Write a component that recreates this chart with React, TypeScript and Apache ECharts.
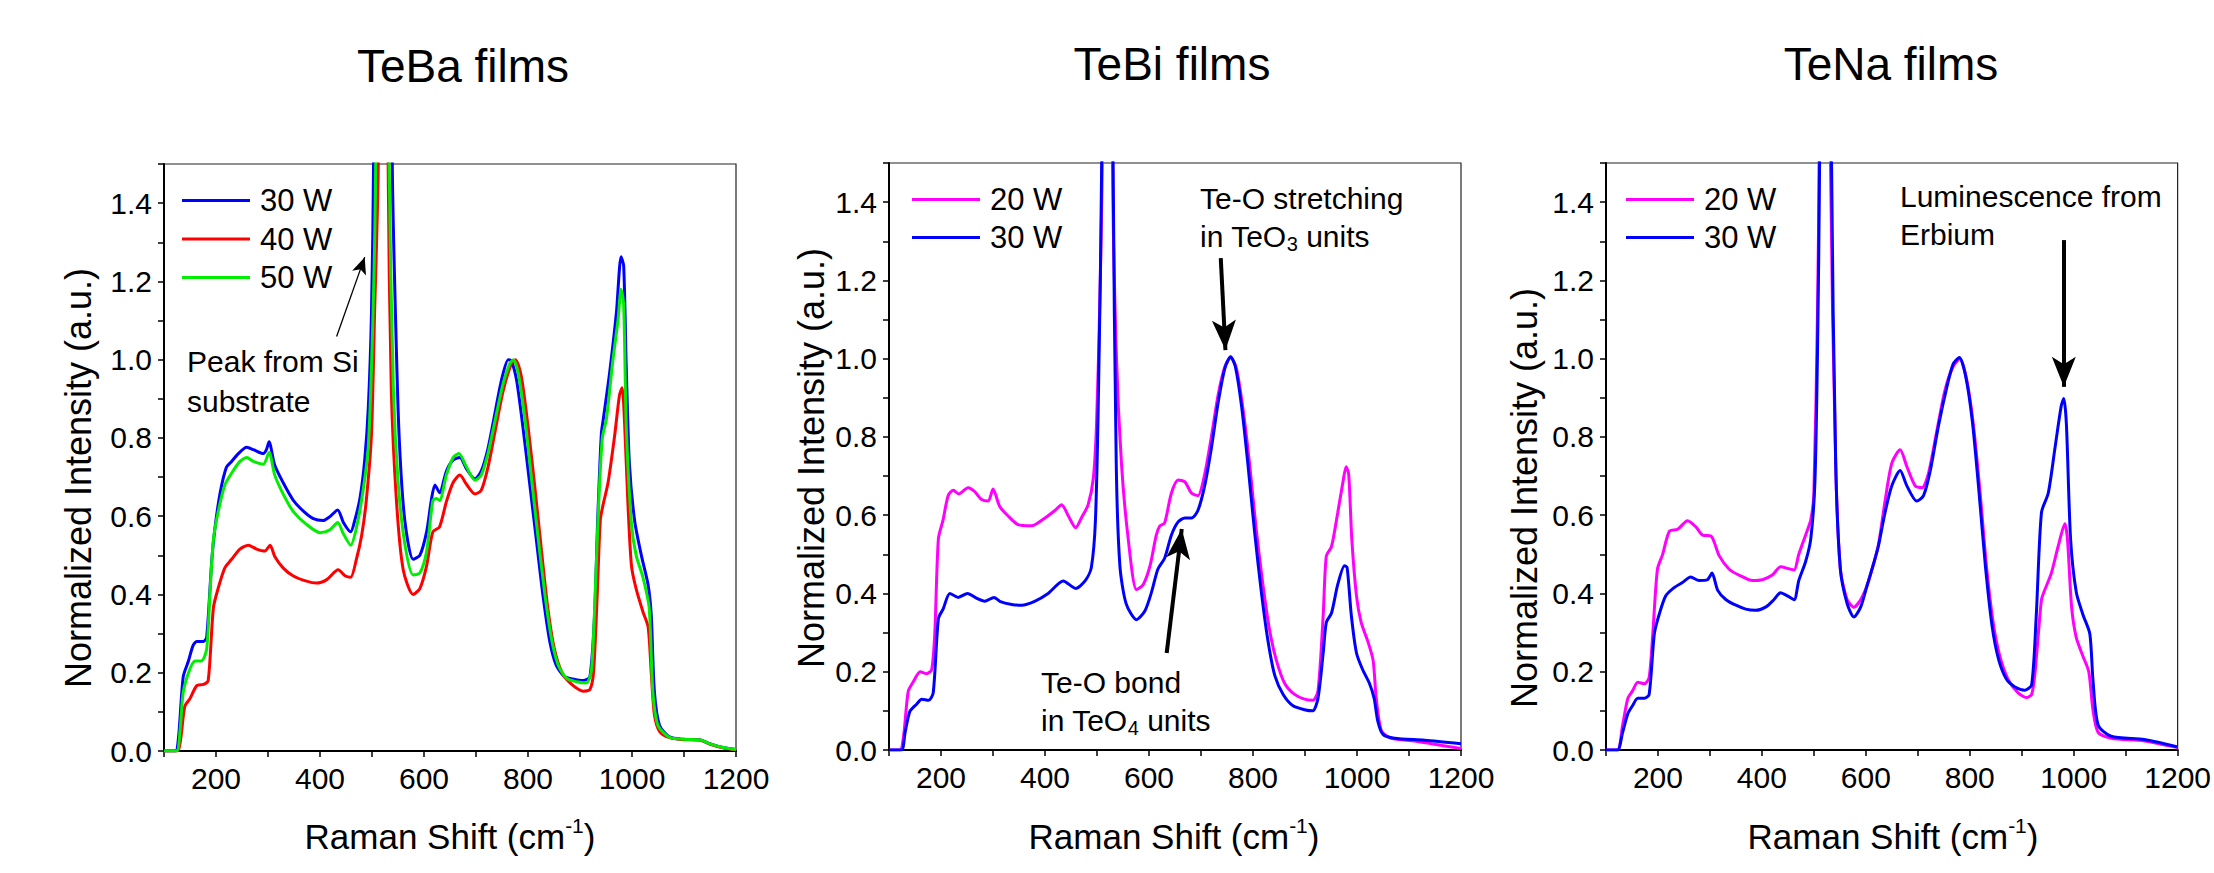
import React, { useEffect, useRef } from "react";
import * as echarts from "echarts";

type Pt = [number, number];

const FONT = "Liberation Sans, Arial, Helvetica, sans-serif";

const panelTitles = ["TeBa films", "TeBi films", "TeNa films"];
const xAxisTitle = "Raman Shift (cm";
const yAxisTitle = "Normalized Intensity (a.u.)";

// ---- TeBa films ----
const teba30W: Pt[] = [[100,0],[122,0],[128,0.036],[137,0.19],[147,0.23],[156,0.27],[163,0.28],[176,0.28],[182,0.29],[192,0.49],[198,0.57],[208,0.66],[220,0.725],[230,0.74],[243,0.76],[259,0.776],[272,0.77],[291,0.76],[297,0.77],[302,0.79],[313,0.73],[329,0.686],[348,0.642],[368,0.613],[387,0.594],[406,0.589],[419,0.599],[434,0.616],[445,0.584],[459,0.56],[467,0.59],[477,0.647],[486,0.744],[493,0.88],[499,1.12],[503,1.5],[510,4],[520,9],[530,4],[539,1.5],[547,1.02],[553,0.78],[563,0.59],[579,0.49],[592,0.5],[605,0.56],[614,0.64],[621,0.68],[630,0.66],[643,0.715],[656,0.744],[669,0.75],[682,0.72],[698,0.695],[710,0.715],[723,0.773],[736,0.86],[749,0.948],[762,1.0],[768,0.997],[778,0.948],[790,0.83],[803,0.686],[816,0.54],[829,0.395],[842,0.279],[854,0.22],[870,0.19],[886,0.184],[906,0.18],[919,0.19],[928,0.347],[934,0.59],[941,0.81],[945,0.85],[957,0.967],[970,1.12],[979,1.263],[984,1.24],[989,0.977],[995,0.734],[1005,0.589],[1018,0.5],[1031,0.424],[1037,0.347],[1043,0.153],[1053,0.065],[1072,0.036],[1098,0.03],[1130,0.029],[1149,0.019],[1175,0.009],[1200,0.004]];
const teba40W: Pt[] = [[100,0],[126,0],[132,0.03],[140,0.114],[150,0.134],[163,0.167],[176,0.17],[185,0.18],[195,0.366],[204,0.415],[217,0.468],[230,0.49],[246,0.516],[262,0.526],[278,0.516],[294,0.511],[304,0.526],[313,0.497],[329,0.468],[348,0.448],[374,0.434],[393,0.429],[413,0.438],[435,0.463],[448,0.448],[459,0.444],[470,0.49],[480,0.55],[489,0.64],[499,0.81],[505,1.12],[512,1.5],[516,4],[522,9],[527,4],[531,1.5],[537,0.93],[547,0.64],[560,0.463],[579,0.4],[592,0.415],[605,0.473],[617,0.56],[630,0.573],[643,0.637],[656,0.686],[669,0.705],[682,0.681],[698,0.657],[710,0.666],[723,0.725],[736,0.812],[752,0.919],[768,0.99],[776,1.0],[787,0.958],[800,0.83],[813,0.676],[826,0.511],[838,0.366],[851,0.259],[867,0.196],[887,0.167],[906,0.153],[919,0.157],[926,0.2],[933,0.395],[939,0.59],[944,0.627],[954,0.686],[967,0.81],[976,0.91],[981,0.928],[986,0.83],[992,0.637],[999,0.473],[1008,0.414],[1021,0.356],[1031,0.317],[1037,0.2],[1043,0.094],[1053,0.05],[1072,0.034],[1098,0.029],[1130,0.028],[1149,0.018],[1175,0.008],[1200,0.003]];
const teba50W: Pt[] = [[100,0],[124,0],[131,0.055],[137,0.15],[150,0.21],[160,0.23],[172,0.23],[182,0.26],[188,0.395],[195,0.54],[204,0.61],[217,0.68],[230,0.71],[246,0.74],[259,0.75],[272,0.74],[291,0.733],[302,0.763],[313,0.705],[329,0.657],[348,0.613],[374,0.579],[400,0.558],[419,0.565],[434,0.584],[445,0.555],[459,0.526],[470,0.57],[483,0.667],[493,0.78],[502,1.12],[507,1.5],[512,4],[520,9],[527,4],[533,1.5],[541,0.93],[550,0.69],[563,0.53],[579,0.45],[592,0.455],[605,0.51],[617,0.64],[624,0.645],[630,0.64],[643,0.705],[656,0.75],[667,0.76],[682,0.725],[698,0.692],[710,0.705],[723,0.76],[736,0.84],[752,0.938],[765,0.99],[772,1.0],[781,0.967],[794,0.85],[806,0.705],[819,0.55],[832,0.405],[845,0.288],[858,0.22],[874,0.186],[893,0.177],[912,0.174],[922,0.206],[929,0.395],[936,0.637],[943,0.8],[951,0.85],[963,0.996],[973,1.1],[979,1.18],[984,1.14],[989,0.83],[999,0.58],[1008,0.5],[1021,0.444],[1033,0.366],[1040,0.153],[1050,0.065],[1072,0.035],[1098,0.03],[1130,0.029],[1149,0.019],[1175,0.009],[1200,0.004]];

// ---- TeBi films ----
const tebi20W: Pt[] = [[100,0],[121,0],[128,0.035],[137,0.15],[147,0.175],[160,0.2],[172,0.195],[182,0.205],[188,0.297],[195,0.54],[204,0.588],[214,0.651],[224,0.664],[234,0.654],[252,0.67],[265,0.66],[278,0.64],[291,0.636],[300,0.667],[313,0.622],[329,0.598],[348,0.576],[374,0.573],[400,0.593],[419,0.612],[432,0.627],[445,0.598],[459,0.568],[470,0.593],[483,0.627],[493,0.695],[499,0.83],[505,1.12],[510,1.5],[515,4],[520,9],[525,4],[530,1.5],[537,1.02],[547,0.733],[560,0.54],[576,0.41],[589,0.423],[602,0.471],[614,0.549],[621,0.573],[630,0.58],[643,0.656],[656,0.69],[669,0.685],[682,0.656],[694,0.65],[707,0.704],[720,0.801],[733,0.908],[746,0.98],[757,1.003],[768,0.976],[781,0.869],[794,0.724],[806,0.566],[819,0.423],[832,0.306],[845,0.229],[861,0.17],[880,0.142],[899,0.13],[915,0.127],[925,0.151],[935,0.345],[941,0.496],[951,0.52],[963,0.607],[973,0.685],[979,0.724],[984,0.705],[990,0.539],[999,0.394],[1008,0.326],[1021,0.277],[1031,0.229],[1037,0.132],[1047,0.049],[1066,0.03],[1111,0.023],[1143,0.016],[1200,0.004]];
const tebi30W: Pt[] = [[100,0],[124,0],[131,0.045],[140,0.098],[153,0.117],[163,0.13],[176,0.127],[185,0.146],[195,0.336],[204,0.36],[217,0.4],[233,0.39],[251,0.4],[268,0.388],[284,0.38],[302,0.39],[313,0.38],[336,0.372],[355,0.37],[380,0.38],[406,0.4],[435,0.432],[459,0.413],[477,0.432],[489,0.466],[497,0.587],[503,0.927],[509,1.5],[514,4],[520,9],[526,4],[531,1.5],[537,0.733],[544,0.471],[556,0.374],[576,0.333],[592,0.355],[605,0.404],[617,0.462],[630,0.49],[643,0.549],[656,0.583],[669,0.593],[682,0.593],[694,0.612],[707,0.675],[720,0.772],[733,0.888],[746,0.976],[757,1.005],[766,0.98],[778,0.879],[790,0.733],[803,0.558],[816,0.404],[829,0.277],[842,0.19],[858,0.142],[877,0.113],[899,0.103],[915,0.1],[925,0.132],[935,0.248],[941,0.326],[951,0.35],[963,0.423],[976,0.471],[981,0.466],[989,0.345],[999,0.248],[1011,0.205],[1024,0.17],[1033,0.132],[1040,0.074],[1050,0.04],[1072,0.03],[1130,0.025],[1200,0.016]];

// ---- TeNa films ----
const tena20W: Pt[] = [[100,0],[122,0],[132,0.064],[142,0.132],[151,0.151],[161,0.173],[174,0.169],[183,0.185],[190,0.297],[199,0.462],[209,0.5],[222,0.559],[238,0.564],[257,0.586],[273,0.57],[286,0.549],[302,0.547],[318,0.496],[337,0.462],[356,0.447],[382,0.433],[401,0.435],[420,0.447],[436,0.468],[452,0.463],[462,0.46],[471,0.5],[484,0.549],[494,0.588],[500,0.656],[507,1.12],[510,1.5],[515,4],[521,9],[527,4],[532,1.5],[542,0.733],[551,0.462],[564,0.384],[577,0.365],[590,0.384],[603,0.423],[616,0.481],[625,0.53],[637,0.636],[650,0.733],[666,0.767],[679,0.724],[695,0.675],[708,0.67],[720,0.704],[736,0.811],[752,0.918],[768,0.98],[781,1.0],[794,0.947],[807,0.83],[820,0.656],[832,0.471],[845,0.326],[858,0.239],[874,0.18],[893,0.146],[909,0.134],[919,0.142],[925,0.19],[932,0.297],[938,0.384],[944,0.408],[957,0.452],[970,0.52],[983,0.578],[988,0.539],[996,0.365],[1005,0.287],[1018,0.239],[1029,0.2],[1037,0.103],[1047,0.045],[1072,0.03],[1136,0.023],[1200,0.006]];
const tena30W: Pt[] = [[100,0],[122,0],[132,0.045],[142,0.093],[151,0.113],[161,0.132],[174,0.132],[183,0.142],[193,0.297],[202,0.345],[215,0.394],[231,0.415],[247,0.428],[263,0.442],[279,0.433],[295,0.435],[304,0.452],[315,0.408],[331,0.384],[350,0.37],[369,0.36],[388,0.357],[407,0.365],[423,0.384],[436,0.402],[449,0.394],[462,0.384],[471,0.433],[484,0.481],[494,0.539],[502,0.685],[507,1.02],[511,1.5],[516,4],[522,9],[528,4],[534,1.5],[542,0.733],[551,0.462],[564,0.374],[577,0.34],[590,0.365],[603,0.423],[616,0.481],[624,0.52],[637,0.607],[650,0.675],[666,0.714],[679,0.675],[698,0.636],[711,0.65],[724,0.714],[740,0.83],[756,0.928],[768,0.986],[780,1.003],[792,0.956],[805,0.84],[818,0.656],[830,0.471],[843,0.316],[856,0.229],[871,0.18],[887,0.161],[906,0.153],[919,0.166],[928,0.345],[938,0.607],[951,0.656],[964,0.772],[976,0.879],[981,0.898],[986,0.831],[994,0.539],[1005,0.403],[1018,0.345],[1031,0.297],[1037,0.18],[1047,0.064],[1072,0.035],[1136,0.027],[1200,0.008]];

// arrows: [tail, head] in data coordinates
const arrowSi: [Pt, Pt] = [[432, 1.059], [486, 1.262]];
const arrowTeO3: [Pt, Pt] = [[738, 1.257], [747, 1.022]];
const arrowTeO4: [Pt, Pt] = [[634, 0.248], [663, 0.565]];
const arrowEr: [Pt, Pt] = [[981, 1.303], [981, 0.928]];

const BLUE = "#0000FF";
const RED = "#FF0000";
const GREEN = "#00EE00";
const MAGENTA = "#FF00FF";

const grids = [
  { left: 164, top: 164, width: 572, height: 587 },
  { left: 889, top: 163, width: 572, height: 587 },
  { left: 1606, top: 163, width: 574, height: 587 },
];

function xAxisFor(i: number) {
  return {
    type: "value",
    gridIndex: i,
    min: 100,
    max: 1200,
    interval: 100,
    axisLine: { show: true, onZero: false, lineStyle: { color: "#000", width: 2 } },
    axisTick: { show: true, inside: false, length: 6, lineStyle: { color: "#000", width: 1.5 } },
    axisLabel: {
      show: true,
      margin: 12,
      fontSize: 30,
      fontFamily: FONT,
      color: "#000",
      formatter: (v: number) => (v % 200 === 0 ? String(v) : ""),
    },
    splitLine: { show: false },
  };
}

function yAxisFor(i: number) {
  return {
    type: "value",
    gridIndex: i,
    min: 0,
    max: 1.5,
    interval: 0.1,
    axisLine: { show: true, onZero: false, lineStyle: { color: "#000", width: 2 } },
    axisTick: { show: true, inside: false, length: 6, lineStyle: { color: "#000", width: 1.5 } },
    axisLabel: {
      show: true,
      margin: 12,
      fontSize: 30,
      fontFamily: FONT,
      color: "#000",
      formatter: (v: number) => {
        const k = Math.round(v * 10);
        return k % 2 === 0 ? (k / 10).toFixed(1) : "";
      },
    },
    splitLine: { show: false },
  };
}

function lineSeries(name: string, data: Pt[], color: string, idx: number, extra: any = {}) {
  return {
    type: "line",
    name,
    data,
    xAxisIndex: idx,
    yAxisIndex: idx,
    showSymbol: false,
    symbol: "none",
    smooth: 0.25,
    clip: true,
    lineStyle: { color, width: 3 },
    itemStyle: { color },
    emphasis: { disabled: true },
    silent: true,
    ...extra,
  };
}

function arrowMark(a: [Pt, Pt], width: number, size: number[]) {
  return {
    silent: true,
    symbol: ["none", "arrow"],
    symbolSize: size,
    label: { show: false },
    emphasis: { disabled: true },
    lineStyle: { color: "#000", width, type: "solid" },
    data: [[{ coord: a[0] }, { coord: a[1] }]],
  };
}

function legendFor(i: number, left: number, top: number, names: string[], gap: number) {
  return {
    show: true,
    orient: "vertical",
    left,
    top,
    itemWidth: 68,
    itemHeight: 3,
    icon: "rect",
    itemGap: gap,
    selectedMode: false,
    textStyle: { fontSize: 31, fontFamily: FONT, color: "#000", lineHeight: 31, padding: [0, 0, 0, 5] },
    data: names,
  };
}

function txt(text: string, x: number, y: number, size: number, align = "left") {
  return {
    type: "text",
    x,
    y,
    silent: true,
    style: {
      text,
      fill: "#000",
      fontSize: size,
      fontFamily: FONT,
      align,
      verticalAlign: "middle",
    },
  };
}

function richTxt(text: string, x: number, y: number, rich: any, align = "left") {
  return {
    type: "text",
    x,
    y,
    silent: true,
    style: {
      text,
      fill: "#000",
      fontFamily: FONT,
      fontSize: 30,
      align,
      verticalAlign: "middle",
      rich,
    },
  };
}

const subRich = {
  a: { fontSize: 30, fontFamily: FONT, fill: "#000", lineHeight: 36, verticalAlign: "middle" },
  s: { fontSize: 20, fontFamily: FONT, fill: "#000", lineHeight: 20, verticalAlign: "bottom" },
};
const supRich = {
  a: { fontSize: 35, fontFamily: FONT, fill: "#000", lineHeight: 42, verticalAlign: "middle" },
  s: { fontSize: 21, fontFamily: FONT, fill: "#000", lineHeight: 21, verticalAlign: "top" },
};

export default function App() {
  const ref = useRef<HTMLDivElement>(null);

  useEffect(() => {
    document.body.style.margin = "0";
    if (!ref.current) return;
    const chart = echarts.init(ref.current, undefined, { renderer: "svg" });

    const xTitlePos = [450, 1174, 1893];
    const yTitlePos: Pt[] = [[78, 478], [811, 458], [1524, 498]];
    const titlePos: Pt[] = [[463, 66], [1172, 64], [1891, 64]];

    const graphics: any[] = [];
    panelTitles.forEach((t, i) => graphics.push(txt(t, titlePos[i][0], titlePos[i][1], 46, "center")));
    xTitlePos.forEach((x) =>
      graphics.push(richTxt(`{a|${xAxisTitle}}{s|-1}{a|)}`, x, 836, supRich, "center"))
    );
    yTitlePos.forEach((p) => {
      const t: any = txt(yAxisTitle, p[0], p[1], 36, "center");
      t.rotation = Math.PI / 2;
      graphics.push(t);
    });
    graphics.push(txt("Peak from Si", 187, 361, 30));
    graphics.push(txt("substrate", 187, 401, 30));
    graphics.push(txt("Te-O stretching", 1200, 198, 30));
    graphics.push(richTxt("{a|in TeO}{s|3}{a| units}", 1200, 236, subRich));
    graphics.push(txt("Te-O bond", 1041, 682, 30));
    graphics.push(richTxt("{a|in TeO}{s|4}{a| units}", 1041, 720, subRich));
    graphics.push(txt("Luminescence from", 1900, 196, 30));
    graphics.push(txt("Erbium", 1900, 234, 30));

    const option: any = {
      animation: false,
      backgroundColor: "#fff",
      grid: grids.map((g) => ({
        ...g,
        show: true,
        borderColor: "#222",
        borderWidth: 1.2,
        backgroundColor: "transparent",
        containLabel: false,
      })),
      xAxis: [0, 1, 2].map(xAxisFor),
      yAxis: [0, 1, 2].map(yAxisFor),
      legend: [
        legendFor(0, 177, 180, ["30 W", "40 W", "50 W"], 7.5),
        legendFor(1, 907, 179, ["20 W", "30 W"], 7),
        legendFor(2, 1621, 179, ["20 W", "30 W"], 7),
      ],
      series: [
        lineSeries("30 W", teba30W, BLUE, 0),
        lineSeries("40 W", teba40W, RED, 0),
        lineSeries("50 W", teba50W, GREEN, 0, { markLine: arrowMark(arrowSi, 1.3, [11, 17]) }),
        lineSeries("20 W", tebi20W, MAGENTA, 1),
        lineSeries("30 W", tebi30W, BLUE, 1, {
          markLine: {
            ...arrowMark(arrowTeO3, 4, [18, 30]),
            data: [
              [{ coord: arrowTeO3[0] }, { coord: arrowTeO3[1] }],
              [{ coord: arrowTeO4[0] }, { coord: arrowTeO4[1] }],
            ],
          },
        }),
        lineSeries("20 W", tena20W, MAGENTA, 2),
        lineSeries("30 W", tena30W, BLUE, 2, { markLine: arrowMark(arrowEr, 4, [18, 30]) }),
      ],
      graphic: graphics,
    };

    chart.setOption(option);
    return () => chart.dispose();
  }, []);

  return <div ref={ref} style={{ width: 2214, height: 873 }} />;
}
